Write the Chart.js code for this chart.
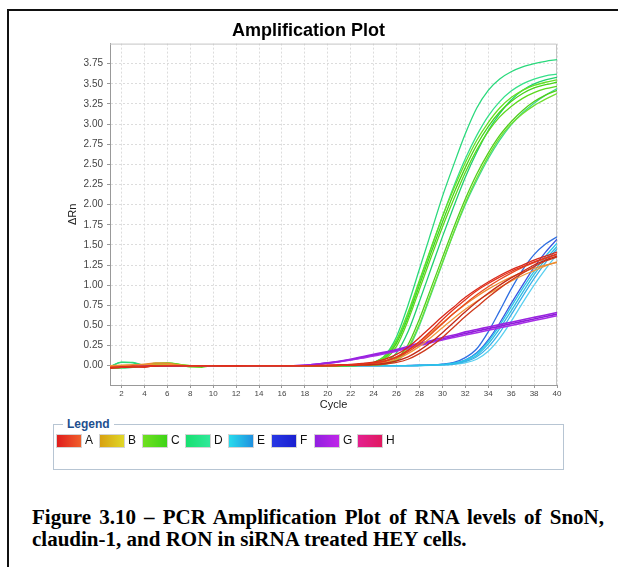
<!DOCTYPE html>
<html>
<head>
<meta charset="utf-8">
<script src="https://cdn.jsdelivr.net/npm/chart.js@4.4.0/dist/chart.umd.min.js"></script>
<style>
  html, body { margin: 0; padding: 0; background: #fff; }
  body { width: 618px; height: 567px; position: relative; overflow: hidden; }
  #frame { position: absolute; left: 7px; top: 9px; width: 620px; height: 570px;
           border-top: 2px solid #111; border-left: 2px solid #111; }
  #chart { position: absolute; left: 0; top: 0; }
  #legend { position: absolute; left: 53px; top: 424px; width: 509px; height: 44px;
            border: 1px solid #b7c5d3; font-family: "Liberation Sans", Arial, sans-serif; }
  #legend .ttl { position: absolute; left: 9px; top: -9px; padding: 0 4px; background: #fff;
                 font-weight: bold; font-size: 12px; color: #1d4f8e; line-height: 16px; }
  #legend .row { position: absolute; left: 2px; top: 9px; white-space: nowrap; }
  #legend .item { display: inline-block; width: 43px; height: 14px; position: relative; vertical-align: top; }
  #legend .sw { position: absolute; left: 0; top: 0; width: 24px; height: 12px; border: 1px solid #d4d4d4; }
  #legend .lb { position: absolute; left: 29px; top: -1px; font-size: 12px; line-height: 15px; color: #111; }
  #caption { position: absolute; left: 32px; top: 506px; width: 572px;
             font-family: "Liberation Serif", "Times New Roman", serif; font-weight: bold;
             font-size: 21px; line-height: 22px; color: #000; }
  #caption .l1 { text-align: justify; text-align-last: justify; white-space: nowrap; }
  #caption .l2 { text-align: left; white-space: nowrap; }
</style>
</head>
<body>
<div id="frame"></div>
<canvas id="chart" width="618" height="425"></canvas>
<div id="legend"><span class="ttl">Legend</span><div class="row" id="legendRow"></div></div>
<div id="caption"><div class="l1">Figure 3.10 – PCR Amplification Plot of RNA levels of SnoN,</div><div class="l2">claudin-1, and RON in siRNA treated HEY cells.</div></div>
<script>
const cycles = [1,2,3,4,5,6,7,8,9,10,11,12,13,14,15,16,17,18,19,20,
                21,22,23,24,25,26,27,28,29,30,31,32,33,34,35,36,37,38,39,40];
const yTicks = [0,0.25,0.5,0.75,1,1.25,1.5,1.75,2,2.25,2.5,2.75,3,3.25,3.5,3.75];
const groupNames = ['A','B','C','D','E','F','G','H'];

// one array per well, 40 cycles each
const curvesA = [
  [-0.03,-0.02,-0.01,-0.015,0,0,0,0,0,0, -0.005,-0.005,0,0,0,0,0,0,0,0.002,
   0.005,0.01,0.02,0.035,0.06,0.11,0.19,0.3,0.43,0.57, 0.7,0.82,0.93,1.02,1.1,1.17,1.23,1.29,1.34,1.39],
  [-0.02,-0.015,-0.01,-0.01,0,0,0,0,0,0, 0,0,0,0,0,0,0,0,0.002,0.005,
   0.01,0.016,0.028,0.045,0.08,0.14,0.23,0.35,0.48,0.61, 0.73,0.85,0.95,1.04,1.12,1.19,1.25,1.31,1.36,1.41],
  [-0.03,-0.02,-0.015,-0.01,-0.005,0,0,0,0,0, 0,0,0,0,0,0,0,0,0,0,
   0.003,0.006,0.01,0.015,0.03,0.06,0.11,0.19,0.29,0.41, 0.54,0.67,0.79,0.9,1.0,1.09,1.17,1.25,1.31,1.36],
  [-0.025,-0.02,-0.01,-0.02,0,0,0,0,0,0, 0,0,0,0,0,0,0,0,0,0,
   0.002,0.004,0.007,0.01,0.02,0.04,0.08,0.15,0.24,0.35, 0.48,0.61,0.73,0.85,0.96,1.06,1.15,1.23,1.3,1.35],
  [-0.02,-0.02,-0.01,-0.01,0,0,0,0,0,0, 0,0,0,0,0,0,0,0,0,0.002,
   0.005,0.009,0.018,0.03,0.055,0.1,0.17,0.27,0.39,0.52, 0.65,0.77,0.88,0.98,1.07,1.15,1.22,1.28,1.33,1.38]
];
const curvesB = [
  [-0.01,0,0.01,0.02,0.035,0.03,0.01,-0.005,0,0, 0,0,0,0,0,0,0,0,0,0,
   0.004,0.008,0.016,0.03,0.06,0.11,0.19,0.29,0.41,0.53, 0.65,0.76,0.86,0.95,1.03,1.1,1.16,1.21,1.25,1.28],
  [0,0.005,0.01,0.01,0.02,0.02,0.005,0,0,0, 0,0,0,0,0,0,0,0,0,0,
   0.003,0.006,0.012,0.02,0.04,0.08,0.15,0.24,0.35,0.47, 0.59,0.7,0.8,0.89,0.97,1.05,1.12,1.18,1.24,1.29]
];
const curvesC = [
  [-0.02,-0.01,0,0.01,0.03,0.035,0.02,-0.01,-0.02,0, 0,0,0,0,0,0,0,0,0,0,
   0,0.003,0.01,0.025,0.08,0.24,0.56,0.95,1.34,1.72, 2.07,2.4,2.68,2.91,3.09,3.22,3.32,3.39,3.44,3.47],
  [-0.03,-0.02,-0.01,0,0.01,0.02,0.01,0,0,0, 0,0,0,0,0,0,0,0,0,0,
   0.002,0.005,0.015,0.04,0.12,0.32,0.66,1.06,1.46,1.85, 2.2,2.52,2.8,3.02,3.2,3.33,3.42,3.48,3.52,3.55],
  [-0.02,-0.02,-0.01,0,0.02,0.03,0.015,-0.015,-0.01,0, 0,0,0,0,0,0,0,0,0,0,
   0,0,0.005,0.01,0.03,0.09,0.26,0.58,0.96,1.34, 1.72,2.07,2.38,2.64,2.86,3.03,3.17,3.28,3.36,3.42],
  [-0.03,-0.025,-0.01,0,0.01,0.01,0,-0.01,0,0, 0,0,0,0,0,0,0,0,0,0,
   0,0,0.004,0.01,0.02,0.07,0.22,0.52,0.9,1.28, 1.66,2.02,2.33,2.6,2.83,3.0,3.13,3.23,3.31,3.38],
  [-0.02,-0.015,0,0.005,0.015,0.02,0.01,0,0,0, 0,0,0,0,0,0,0,0,0,0,
   0.002,0.004,0.012,0.03,0.1,0.28,0.6,1.0,1.4,1.78, 2.14,2.46,2.74,2.97,3.15,3.28,3.38,3.45,3.49,3.52]
];
const curvesD = [
  [-0.02,0.045,0.04,0.005,0,0,0,0,0,0, 0,0,0,0,0,0,0,0,0,0,
   0.002,0.005,0.015,0.04,0.13,0.36,0.75,1.2,1.65,2.1, 2.5,2.88,3.2,3.42,3.56,3.65,3.71,3.75,3.78,3.8],
  [-0.03,-0.03,-0.02,-0.005,0,0,0,0,0,0, 0,0,0,0,0,0,0,0,0,0,
   0.002,0.004,0.012,0.035,0.11,0.3,0.63,1.04,1.45,1.85, 2.23,2.57,2.86,3.1,3.28,3.41,3.5,3.56,3.6,3.62],
  [-0.01,0.04,0.035,0,0,0,0,0,0,0, 0,0,0,0,0,0,0,0,0,0,
   0,0.002,0.006,0.015,0.05,0.16,0.42,0.8,1.2,1.6, 1.98,2.34,2.65,2.92,3.13,3.3,3.42,3.5,3.55,3.58],
  [-0.03,-0.02,-0.02,0,0,0,0,0,0,0, 0,0,0,0,0,0,0,0,0,0,
   0,0,0.003,0.008,0.02,0.06,0.2,0.5,0.88,1.27, 1.65,2.0,2.3,2.57,2.8,2.99,3.14,3.26,3.36,3.44]
];
const curvesE = [
  [0,0,0,0,0,0,0,0,0,0, 0,0,0,0,0,0,0,0,0,0,
   0,0,0,0,0,0,0.001,0.003,0.008,0.015, 0.03,0.07,0.15,0.3,0.5,0.73,0.96,1.17,1.36,1.52],
  [0,0,0,0,0,0,0,0,0,0, 0,0,0,0,0,0,0,0,0,0,
   0,0,0,0,0,0,0,0.002,0.005,0.01, 0.02,0.05,0.11,0.23,0.41,0.63,0.86,1.08,1.28,1.45],
  [0,0,0,0,0,0,0,0,0,0, 0,0,0,0,0,0,0,0,0,0,
   0,0,0,0,0,0,0,0.002,0.004,0.008, 0.015,0.035,0.08,0.18,0.34,0.55,0.78,1.0,1.2,1.38],
  [0,0,0,0,0,0,0,0,0,0, 0,0,0,0,0,0,0,0,0,0,
   0,0,0,0,0,0,0,0.002,0.006,0.012, 0.025,0.06,0.13,0.27,0.46,0.68,0.91,1.13,1.32,1.48]
];
const curvesF = [
  [0,0,0,0,0,0,0,0,0,0, 0,0,0,0,0,0,0,0,0,0,
   0,0,0,0,0,0,0.002,0.005,0.01,0.02, 0.04,0.1,0.21,0.42,0.68,0.95,1.19,1.38,1.51,1.6],
  [0,0,0,0,0,0,0,0,0,0, 0,0,0,0,0,0,0,0,0,0,
   0,0,0,0,0,0,0,0.003,0.008,0.015, 0.03,0.07,0.16,0.32,0.53,0.77,1.0,1.22,1.41,1.57]
];
const curvesG = [
  [0,0,0,0,0,0,0,0,0,0, 0,0,0,0,0,0,0,0.005,0.02,0.035,
   0.055,0.08,0.11,0.14,0.17,0.2,0.24,0.28,0.31,0.35, 0.38,0.42,0.45,0.48,0.51,0.54,0.57,0.6,0.63,0.66],
  [0,0,0,0,0,0,0,0,0,0, 0,0,0,0,0,0,0,0.003,0.015,0.03,
   0.048,0.07,0.095,0.12,0.15,0.18,0.215,0.25,0.285,0.32, 0.35,0.38,0.41,0.44,0.47,0.5,0.53,0.56,0.59,0.62],
  [0,0,0,0,0,0,0,0,0,0, 0,0,0,0,0,0,0,0.004,0.018,0.032,
   0.05,0.075,0.1,0.13,0.16,0.19,0.225,0.26,0.3,0.33, 0.365,0.4,0.43,0.46,0.49,0.52,0.55,0.58,0.61,0.64]
];

// styles
const lineColors = {
  A: ['#e2321c','#d8281a','#c42a18','#cf3a1c','#e8481f'],
  B: ['#ec8a30','#f09a3a'],
  C: ['#5cd81e','#66e022','#52cf1a','#70e030','#48d418'],
  D: ['#2ad97c','#36e08a','#20d070','#3ed890'],
  E: ['#28c4ea','#3ab0e8','#5ad0f0','#30bce0'],
  F: ['#2f6fe2','#3a56e0'],
  G: ['#9a24e0','#a62ee6','#8e1ed8']
};
const legendColors = [
  ['#e01c1c','#f0602c'], ['#d8a010','#e0d828'], ['#70e020','#3ed418'], ['#18e070','#30e89a'],
  ['#28dcec','#2090e0'], ['#2838e4','#1a20d0'], ['#9020e0','#c026e8'], ['#e42090','#e01a60']
];

const datasets = [];
[['A', curvesA], ['B', curvesB], ['G', curvesG], ['C', curvesC],
 ['D', curvesD], ['E', curvesE], ['F', curvesF]].forEach(([g, list]) => {
  list.forEach((vals, i) => {
    datasets.push({
      label: g + (i + 1),
      data: vals.map((v, k) => ({x: cycles[k], y: v})),
      borderColor: lineColors[g][i % lineColors[g].length],
      borderWidth: g === 'G' ? 1.6 : 1.3,
      pointRadius: 0,
      cubicInterpolationMode: 'monotone',
      fill: false
    });
  });
});

const plotFrame = {
  id: 'plotFrame',
  beforeDatasetsDraw(chart) {
    const {ctx, chartArea: a} = chart;
    ctx.save();
    ctx.strokeStyle = '#c4c4c4';
    ctx.lineWidth = 1;
    ctx.beginPath();
    ctx.moveTo(a.left, a.top + 0.5);
    ctx.lineTo(a.right - 0.5, a.top + 0.5);
    ctx.lineTo(a.right - 0.5, a.bottom);
    ctx.stroke();
    ctx.restore();
  }
};

const tickFont = {family: 'Liberation Sans', size: 10};
new Chart(document.getElementById('chart'), {
  type: 'line',
  data: {datasets: datasets},
  plugins: [plotFrame],
  options: {
    responsive: false,
    animation: false,
    layout: {padding: {left: 60, right: 61, top: 0, bottom: 0}},
    plugins: {
      legend: {display: false},
      tooltip: {enabled: false},
      title: {
        display: true,
        text: 'Amplification Plot',
        color: '#000',
        font: {family: 'Liberation Sans', size: 18, weight: 'bold'},
        padding: {top: 20, bottom: 2}
      }
    },
    scales: {
      x: {
        type: 'linear',
        min: 1, max: 40,
        afterBuildTicks: s => { s.ticks = cycles.filter(c => c % 2 === 0).map(c => ({value: c})); },
        afterFit: s => { s.height = 40; },
        ticks: {font: {family: 'Liberation Sans', size: 8}, color: '#444', padding: 1,
                maxRotation: 0, autoSkip: false},
        grid: {color: '#dcdcdc', tickColor: '#999', tickLength: 3},
        border: {color: '#999', dash: [2, 2]},
        title: {display: true, text: 'Cycle', color: '#222',
                font: {family: 'Liberation Sans', size: 11}, padding: {top: 0, bottom: 13}}
      },
      y: {
        min: -0.24, max: 4.0,
        afterBuildTicks: s => { s.ticks = yTicks.map(v => ({value: v})); },
        afterFit: s => { s.width = 50; },
        ticks: {font: tickFont, color: '#444', padding: 4,
                callback: v => v.toFixed(2)},
        grid: {color: '#dcdcdc', tickColor: '#999', tickLength: 3},
        border: {color: '#999', dash: [2, 2]},
        title: {display: true, text: 'ΔRn', color: '#222',
                font: {family: 'Liberation Sans', size: 11}, padding: {top: 6, bottom: 0}}
      }
    }
  }
});

// boxed legend like the instrument software
const row = document.getElementById('legendRow');
groupNames.forEach((n, i) => {
  const item = document.createElement('span');
  item.className = 'item';
  item.innerHTML = '<span class="sw" style="background:linear-gradient(to right,' +
    legendColors[i][0] + ',' + legendColors[i][1] + ')"></span><span class="lb">' + n + '</span>';
  row.appendChild(item);
});
</script>
</body>
</html>
